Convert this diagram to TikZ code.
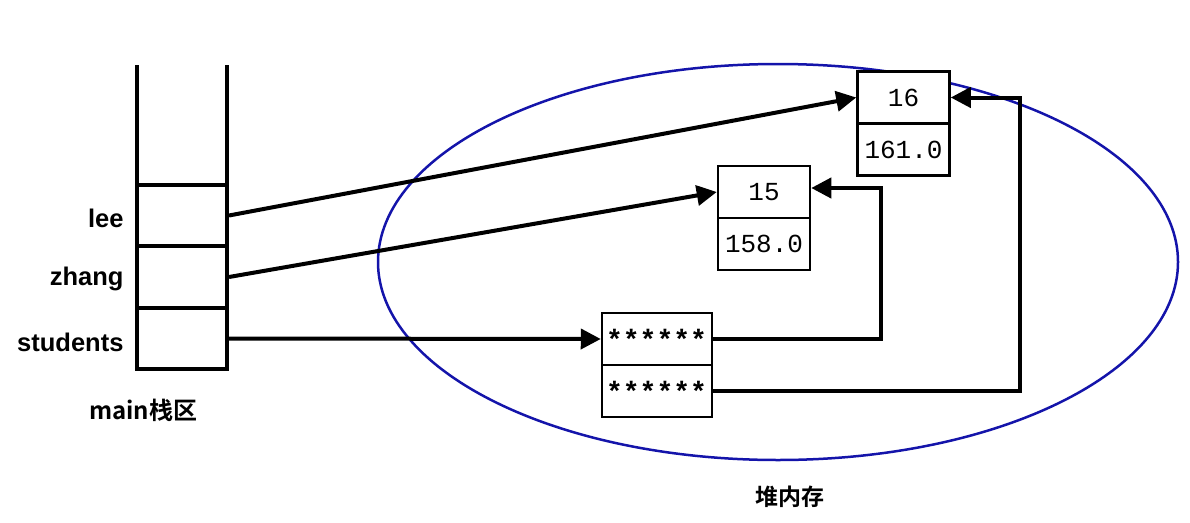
\documentclass[tikz,border=0pt]{standalone}
\usepackage{fontspec}
\setmainfont{Liberation Sans}
\newfontfamily\cjk{Noto Sans CJK SC}[BoldFont={Noto Sans CJK SC Bold}]
\newfontfamily\monof{Liberation Mono}
\usetikzlibrary{arrows.meta}
\definecolor{heapblue}{RGB}{20,20,170}
\tikzset{
  cell/.style={draw, line width=4pt, minimum width=90pt, minimum height=61.5pt, inner sep=0pt},
  hcell/.style={draw, fill=white, line width=2.5pt, minimum height=52pt, inner sep=0pt, font=\monof\fontsize{26}{26}\selectfont},
  lbl/.style={anchor=east, font=\bfseries\fontsize{25.5}{25.5}\selectfont},
  ptr/.style={line width=4pt, -{Triangle[length=20pt,width=20pt]}},
  heap/.style={draw=heapblue, line width=2.5pt}
}
\newcommand{\stars}{\raisebox{-5pt}{\bfseries\fontsize{28}{28}\selectfont\kern-1pt******}}
\begin{document}
\begin{tikzpicture}[x=1pt,y=-1pt]
\useasboundingbox (0,0) rectangle (1190,522);
% heap ellipse
\draw[heap] (778,262) ellipse [x radius=400, y radius=198];
% stack
\draw[line width=4pt] (137,65) -- (137,185);
\draw[line width=4pt] (227,65) -- (227,185);
\node[cell] (lee) at (182,215.5) {};
\node[cell] (zhang) at (182,277) {};
\node[cell] (stu) at (182,338.5) {};
\node[lbl] (leel) at (127,218) {lee};
\node[lbl] (zhangl) at (127,279) {zhang};
\node[lbl] (stul) at (127,342) {students};
\node[font=\cjk\bfseries\fontsize{24}{24}\selectfont] (mainl) at (143,410) {main栈区};
% heap objects
\node[hcell, minimum width=92pt] (a16) at (903.5,97.5) {16};
\node[hcell, minimum width=92pt] (a161) at (903.5,149.5) {161.0};
\node[hcell, minimum width=92pt] (a15) at (764,192) {15};
\node[hcell, minimum width=92pt] (a158) at (764,244) {158.0};
\node[hcell, minimum width=110pt] (p1) at (657,339) {\stars};
\node[hcell, minimum width=110pt] (p2) at (657,391) {\stars};
\node[font=\cjk\bfseries\fontsize{23}{23}\selectfont] (heapl) at (790,497) {堆内存};
% pointers
\draw[ptr] (lee.east) -- (a16.west);
\draw[ptr] (zhang.east) -- (a15.west);
\draw[ptr] (stu.east) -- (p1.west);
\coordinate (c1) at (881,339);
\coordinate (c2) at (1020,391);
\draw[ptr] (p1.east) -- (c1) |- ([yshift=4pt]a15.east);
\draw[ptr] (p2.east) -- (c2) |- (a16.east);
\end{tikzpicture}
\end{document}
